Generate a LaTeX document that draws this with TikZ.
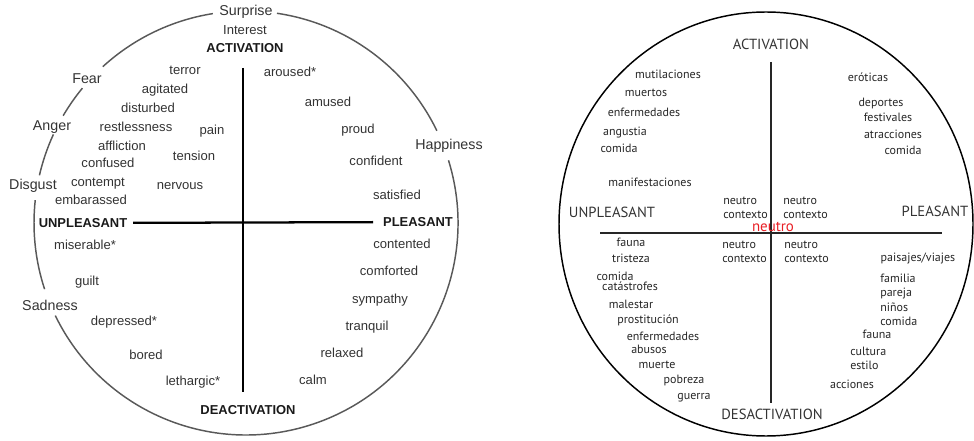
\documentclass[tikz,border=0pt]{standalone}
\usepackage{fontspec}
\newfontfamily\arialfont{Liberation Sans}
\newfontfamily\myriadfont{PT Sans}
\definecolor{neutrored}{RGB}{232,30,36}

\begin{document}
\begin{tikzpicture}[x=0.75pt, y=-0.75pt,
		ring/.style={line width=1.1pt, black!65},
		ringR/.style={line width=1.1pt, black},
		axis/.style={line width=1.7pt},
		axisR/.style={line width=1.1pt, black!85},
		word/.style={font=\arialfont\fontsize{9.8}{10}\selectfont, text=black!80, inner sep=0pt, text height=0.7em, text depth=0.2em},
		feel/.style={word, font=\arialfont\fontsize{10.7}{11}\selectfont},
		pole/.style={font=\arialfont\bfseries\fontsize{9.7}{10}\selectfont, text=black!90},
		palabra/.style={font=\myriadfont\fontsize{9}{10}\selectfont, text=black!85, inner sep=0pt, text height=0.7em, text depth=0.2em},
		polo/.style={font=\myriadfont\fontsize{11}{12}\selectfont, text=black!80}]
				\useasboundingbox (0,0) rectangle (974,441);
				
				\coordinate (lc) at (246,223);
				\foreach \a/\b in {227.5/261, 278.4/334.2, 342.8/514.1, 161.8/186.2, 193/204.7, 210.4/219.5}
					\draw[ring] (lc) ++(\a:212) arc[start angle=\a, end angle=\b, radius=212];
				
				\node[feel] (surprise) at (246,12) {Surprise};
				\node[word] (interest) at (245,31) {Interest};
				\node[pole] (act) at (245,48) {ACTIVATION};
				\node[feel] (fear) at (87,80) {Fear};
				\node[feel] (anger) at (52,127) {Anger};
				\node[feel] (disgust) at (33,186) {Disgust};
				\node[feel] (sadness) at (50,307) {Sadness};
				\node[feel] (happiness) at (449,146) {Happiness};
				\node[pole] (unpl) at (83,223) {UNPLEASANT};
				\node[pole] (pleas) at (418,222) {PLEASANT};
				\node[pole] (deact) at (248,410) {DEACTIVATION};
				
				\coordinate (vtopL) at (243,68);
				\coordinate (vbotL) at (243,392);
				\draw[axis] (vtopL) -- (vbotL);
				\draw[axis, shorten <=1pt, shorten >=4pt] (unpl) -- (pleas);
				
				\node[word] (terror) at (185,71) {terror};
				\node[word] (agitated) at (165,90) {agitated};
				\node[word] (disturbed) at (148,109) {disturbed};
				\node[word] (restless) at (136,128) {restlessness};
				\node[word] (pain) at (212,131) {pain};
				\node[word] (affliction) at (122,147) {affliction};
				\node[word] (tension) at (194,157) {tension};
				\node[word] (confused) at (108,164) {confused};
				\node[word] (contempt) at (98,183) {contempt};
				\node[word] (nervous) at (180,186) {nervous};
				\node[word] (embarassed) at (91,201) {embarassed};
				\node[word] (miserable) at (85,246) {miserable*};
				\node[word] (guilt) at (87,282) {guilt};
				\node[word] (depressed) at (124,322) {depressed*};
				\node[word] (bored) at (146,356) {bored};
				\node[word] (lethargic) at (193,382) {lethargic*};
				
				\node[word] (aroused) at (290,73) {aroused*};
				\node[word] (amused) at (328,103) {amused};
				\node[word] (proud) at (358,130) {proud};
				\node[word] (confident) at (376,162) {confident};
				\node[word] (satisfied) at (397,196) {satisfied};
				\node[word] (contented) at (402,245) {contented};
				\node[word] (comforted) at (389,272) {comforted};
				\node[word] (sympathy) at (380,300) {sympathy};
				\node[word] (tranquil) at (367,327) {tranquil};
				\node[word] (relaxed) at (342,354) {relaxed};
				\node[word] (calm) at (313,381) {calm};
				
				\coordinate (rc) at (766,224);
				\draw[ringR] (rc) ellipse [x radius=207, y radius=212];
				
				\node[polo] (activ) at (771,44) {ACTIVATION};
				\node[polo] (desact) at (772,414) {DESACTIVATION};
				\node[polo] (unpleas) at (612,212) {UNPLEASANT};
				\node[polo] (pleasant) at (935,211) {PLEASANT};
				
				\coordinate (vtopR) at (771,62);
				\coordinate (vbotR) at (771,403);
				\coordinate (hleftR) at (600,233);
				\coordinate (hrightR) at (942,233);
				\draw[axisR] (vtopR) -- (vbotR);
				\draw[axisR] (hleftR) -- (hrightR);
				
				\foreach \x/\y [count=\i] in {723/201, 783/201, 722/245, 784/245} {
					\node[palabra, anchor=west] (neutro\i) at (\x,\y) {neutro};
					\node[palabra, anchor=west] (contexto\i) at (\x,\y+14) {contexto};
				}
				\node[palabra, font=\myriadfont\fontsize{11.2}{12}\selectfont, text=neutrored] (neutro) at (773,228) {neutro};
				
				\node[palabra] (mutilaciones) at (668,75) {mutilaciones};
				\node[palabra] (muertos) at (646,93) {muertos};
				\node[palabra] (enfermUL) at (644,113) {enfermedades};
				\node[palabra] (angustia) at (625,132) {angustia};
				\node[palabra] (comidaUL) at (619,149) {comida};
				\node[palabra] (manifest) at (650,183) {manifestaciones};
				
				\node[palabra] (eroticas) at (868,78) {eróticas};
				\node[palabra] (deportes) at (881,103) {deportes};
				\node[palabra] (festivales) at (888,118) {festivales};
				\node[palabra] (atracciones) at (893,135) {atracciones};
				\node[palabra] (comidaUR) at (903,151) {comida};
				
				\node[palabra] (faunaLL) at (631,243) {fauna};
				\node[palabra] (tristeza) at (631,259) {tristeza};
				\node[palabra] (comidaLL) at (615,277) {comida};
				\node[palabra] (catastrofes) at (630,287) {catástrofes};
				\node[palabra] (malestar) at (631,305) {malestar};
				\node[palabra] (prostitucion) at (648,320) {prostitución};
				\node[palabra] (enfermLL) at (663,337) {enfermedades};
				\node[palabra] (abusos) at (649,350) {abusos};
				\node[palabra] (muerte) at (657,365) {muerte};
				\node[palabra] (pobreza) at (684,380) {pobreza};
				\node[palabra] (guerra) at (694,396) {guerra};
				
				\node[palabra] (paisajes) at (918,258) {paisajes/viajes};
				\node[palabra, anchor=west] (familia) at (880,279) {familia};
				\node[palabra, anchor=west] (pareja) at (880,293) {pareja};
				\node[palabra, anchor=west] (ninos) at (880,308) {niños};
				\node[palabra, anchor=west] (comidaLR) at (880,322) {comida};
				\node[palabra] (faunaLR) at (877,335) {fauna};
				\node[palabra, anchor=west] (cultura) at (850,352) {cultura};
				\node[palabra, anchor=west] (estilo) at (850,366) {estilo};
				\node[palabra] (acciones) at (852,385) {acciones};
			\end{tikzpicture}
\end{document}
